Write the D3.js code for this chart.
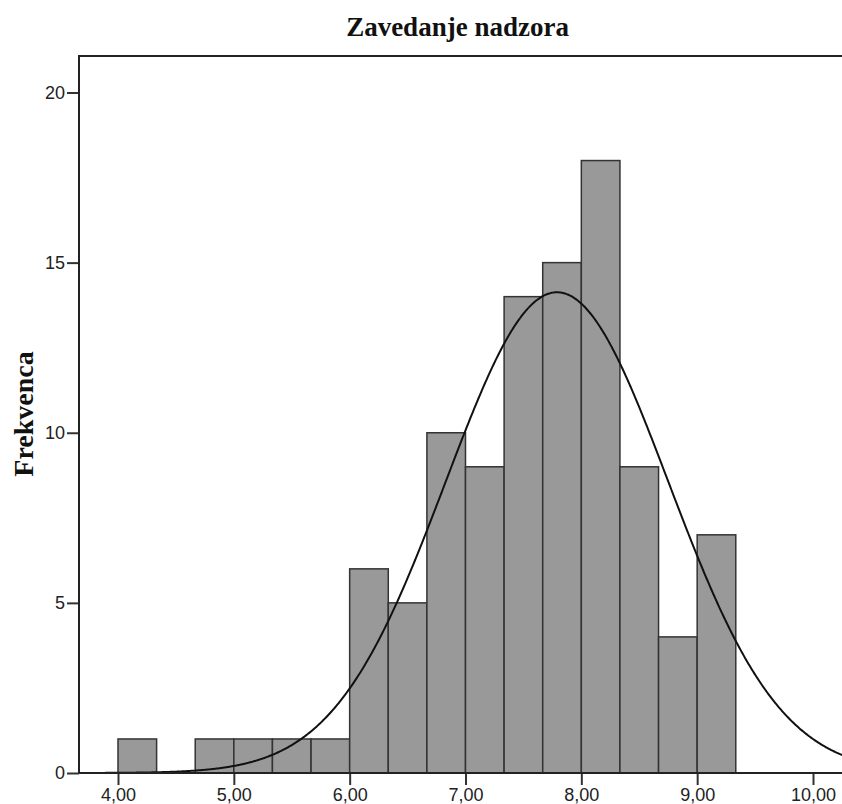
<!DOCTYPE html>
<html><head><meta charset="utf-8">
<script src="https://cdn.jsdelivr.net/npm/d3@7"></script>
<style>html,body{margin:0;padding:0;background:#fff;overflow:hidden}</style>
</head><body>
<script>
// Data
const binStarts = [4.0, 4.3333, 4.6667, 5.0, 5.3333, 5.6667, 6.0, 6.3333, 6.6667, 7.0, 7.3333, 7.6667, 8.0, 8.3333, 8.6667, 9.0];
const frequencies = [1, 0, 1, 1, 1, 1, 6, 5, 10, 9, 14, 15, 18, 9, 4, 7];
const binWidth = 1/3;
const xTicks = [4, 5, 6, 7, 8, 9, 10];
const yTicks = [0, 5, 10, 15, 20];
const curveMean = 7.79;
const curveSD = 0.96;
const curveN = 102;
const title = "Zavedanje nadzora";
const yLabel = "Frekvenca";

(function(){
const W = 842, H = 804;
const svg = d3.select("body").append("svg").attr("width", W).attr("height", H);

const pLeft = 79, pTop = 56, pBottom = 773;
const x = d3.scaleLinear().domain([4, 10]).range([118, 813]);
const y = d3.scaleLinear().domain([0, 20]).range([pBottom, 92.5]);

svg.append("defs").append("clipPath").attr("id","clip")
  .append("rect").attr("x", pLeft).attr("y", pTop).attr("width", W - pLeft).attr("height", pBottom - pTop);

// bars
svg.append("g").selectAll("rect").data(binStarts.map((s,i)=>({s, f: frequencies[i]})).filter(d=>d.f>0))
  .join("rect")
  .attr("x", d => x(d.s))
  .attr("y", d => y(d.f))
  .attr("width", d => x(d.s + binWidth) - x(d.s))
  .attr("height", d => y(0) - y(d.f))
  .attr("fill", "#999999")
  .attr("stroke", "#333")
  .attr("stroke-width", 1.5);

// normal curve
const pdf = v => curveN * binWidth / (curveSD * Math.sqrt(2*Math.PI)) * Math.exp(-0.5*((v-curveMean)/curveSD)**2);
const xs = d3.range(x.invert(pLeft), x.invert(W + 2), 0.01);
svg.append("path").attr("clip-path","url(#clip)")
  .attr("d", d3.line().x(v => x(v)).y(v => y(pdf(v))).curve(d3.curveBasis)(xs))
  .attr("fill","none").attr("stroke","#111").attr("stroke-width",2);

// frame: top line
svg.append("line").attr("x1", pLeft).attr("x2", W).attr("y1", pTop).attr("y2", pTop)
  .attr("stroke","#222").attr("stroke-width",2);

// y axis
const yAxis = svg.append("g").attr("transform", `translate(${pLeft},0)`)
  .call(d3.axisLeft(y).tickValues(yTicks).tickSize(12).tickPadding(2).tickFormat(d3.format("d")));
yAxis.select(".domain").remove();
svg.append("line").attr("x1", pLeft).attr("x2", pLeft).attr("y1", pTop - 1).attr("y2", pBottom)
  .attr("stroke","#222").attr("stroke-width",2);

// x axis
const xAxis = svg.append("g").attr("transform", `translate(0,${pBottom})`)
  .call(d3.axisBottom(x).tickValues(xTicks).tickSize(12).tickPadding(3).tickFormat(d => d.toFixed(2).replace(".", ",")));
xAxis.select(".domain").remove();
svg.append("line").attr("x1", pLeft).attr("x2", W).attr("y1", pBottom).attr("y2", pBottom)
  .attr("stroke","#222").attr("stroke-width",2);

svg.selectAll(".tick line").attr("stroke","#333").attr("stroke-width",2);
svg.selectAll(".tick text").attr("font-family","'Liberation Sans', Arial, sans-serif").attr("font-size",18).attr("fill","#222");

// title
svg.append("text").attr("x", 457.5).attr("y", 36).attr("text-anchor","middle")
  .attr("font-family","'Liberation Serif','Times New Roman',serif").attr("font-weight","bold")
  .attr("font-size",27).attr("fill","#111").text(title);

// y label
svg.append("text").attr("transform","translate(33,414) rotate(-90)").attr("text-anchor","middle")
  .attr("font-family","'Liberation Serif','Times New Roman',serif").attr("font-weight","bold")
  .attr("font-size",28).attr("fill","#111").text(yLabel);
})();
</script>
</body></html>
